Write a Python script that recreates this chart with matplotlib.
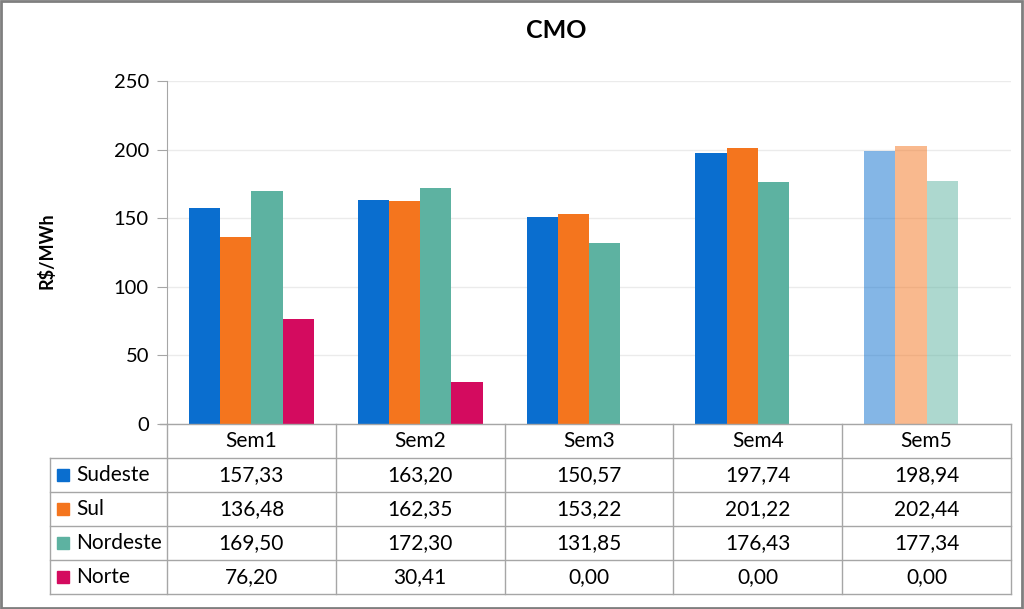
import matplotlib.pyplot as plt
from matplotlib.lines import Line2D
from matplotlib.patches import Rectangle
import numpy as np

plt.rcParams['font.family'] = ['Lato', 'DejaVu Sans']

semanas = ['Sem1', 'Sem2', 'Sem3', 'Sem4', 'Sem5']
subsistemas = ['Sudeste', 'Sul', 'Nordeste', 'Norte']
sudeste = [157.33, 163.20, 150.57, 197.74, 198.94]
sul = [136.48, 162.35, 153.22, 201.22, 202.44]
nordeste = [169.50, 172.30, 131.85, 176.43, 177.34]
norte = [76.20, 30.41, 0.00, 0.00, 0.00]
cores = ['#0A6ECF', '#F4751E', '#5DB2A1', '#D40B5F']

series = [sudeste, sul, nordeste, norte]

W, H = 1024, 609
fig = plt.figure(figsize=(W / 100, H / 100), dpi=100)

def fx(px):
    return px / W

def fy(py):
    return 1 - py / H

# plot area in pixels
x0, x1 = 167, 1011
y_top, y_zero = 81, 424
ax = fig.add_axes([x0 / W, 1 - y_zero / H, (x1 - x0) / W, (y_zero - y_top) / H])

x = np.arange(len(semanas))
w = 0.185
for i, (vals, cor) in enumerate(zip(series, cores)):
    offs = (i - 1.5) * w
    for j, v in enumerate(vals):
        # ultima semana em tom mais claro
        alpha = 0.5 if j == len(semanas) - 1 else 1.0
        ax.bar(x[j] + offs, v, w, color=cor, alpha=alpha, linewidth=0)

ax.set_xlim(-0.5, len(semanas) - 0.5)
ax.set_ylim(0, 250)
ax.set_yticks([0, 50, 100, 150, 200, 250])
ax.set_xticks([])
ax.grid(axis='y', color='#EBEBEB', linewidth=1)
ax.set_axisbelow(True)
for s in ['top', 'right', 'bottom']:
    ax.spines[s].set_visible(False)
ax.spines['left'].set_color('#A6A6A6')
ax.tick_params(axis='y', length=7, color='#A6A6A6', labelsize=14.5, pad=6, labelcolor='#000000')

fig.text(fx(46), fy(251), 'R$/MWh', rotation=90, ha='center', va='center',
         fontsize=13, fontweight='bold')
fig.text(fx(556), fy(31), 'CMO', ha='center', va='center', fontsize=18, fontweight='bold')

# tabela de dados
tab_left = 50
row_h = 34
rows_y = [y_zero + k * row_h for k in range(6)]
cat_w = (x1 - x0) / len(semanas)
grid_col = '#A6A6A6'
fs = 15

fig.add_artist(Line2D([fx(160), fx(x1)], [fy(rows_y[0])] * 2, color=grid_col, lw=1))
for k in range(1, 6):
    fig.add_artist(Line2D([fx(tab_left), fx(x1)], [fy(rows_y[k])] * 2, color=grid_col, lw=1))
fig.add_artist(Line2D([fx(tab_left)] * 2, [fy(rows_y[1]), fy(rows_y[5])], color=grid_col, lw=1))
for j in range(len(semanas) + 1):
    xp = x0 + j * cat_w
    fig.add_artist(Line2D([fx(xp)] * 2, [fy(rows_y[0]), fy(rows_y[5])], color=grid_col, lw=1))

for j, sem in enumerate(semanas):
    fig.text(fx(x0 + (j + 0.5) * cat_w), fy(rows_y[0] + row_h / 2), sem,
             ha='center', va='center', fontsize=fs)

for i, (nome, vals, cor) in enumerate(zip(subsistemas, series, cores)):
    yc = rows_y[i + 1] + row_h / 2
    fig.add_artist(Rectangle((fx(57), fy(yc + 6)), 12 / W, 12 / H, color=cor, transform=fig.transFigure))
    fig.text(fx(76), fy(yc), nome, ha='left', va='center', fontsize=fs)
    for j, v in enumerate(vals):
        txt = f'{v:.2f}'.replace('.', ',')
        fig.text(fx(x0 + (j + 0.5) * cat_w), fy(yc), txt, ha='center', va='center', fontsize=fs)

# borda externa
fig.add_artist(Rectangle((0.001, 0.002), 0.997, 0.996, fill=False, edgecolor='#7F7F7F',
                         lw=2, transform=fig.transFigure))

fig.savefig('out.png', dpi=100)
